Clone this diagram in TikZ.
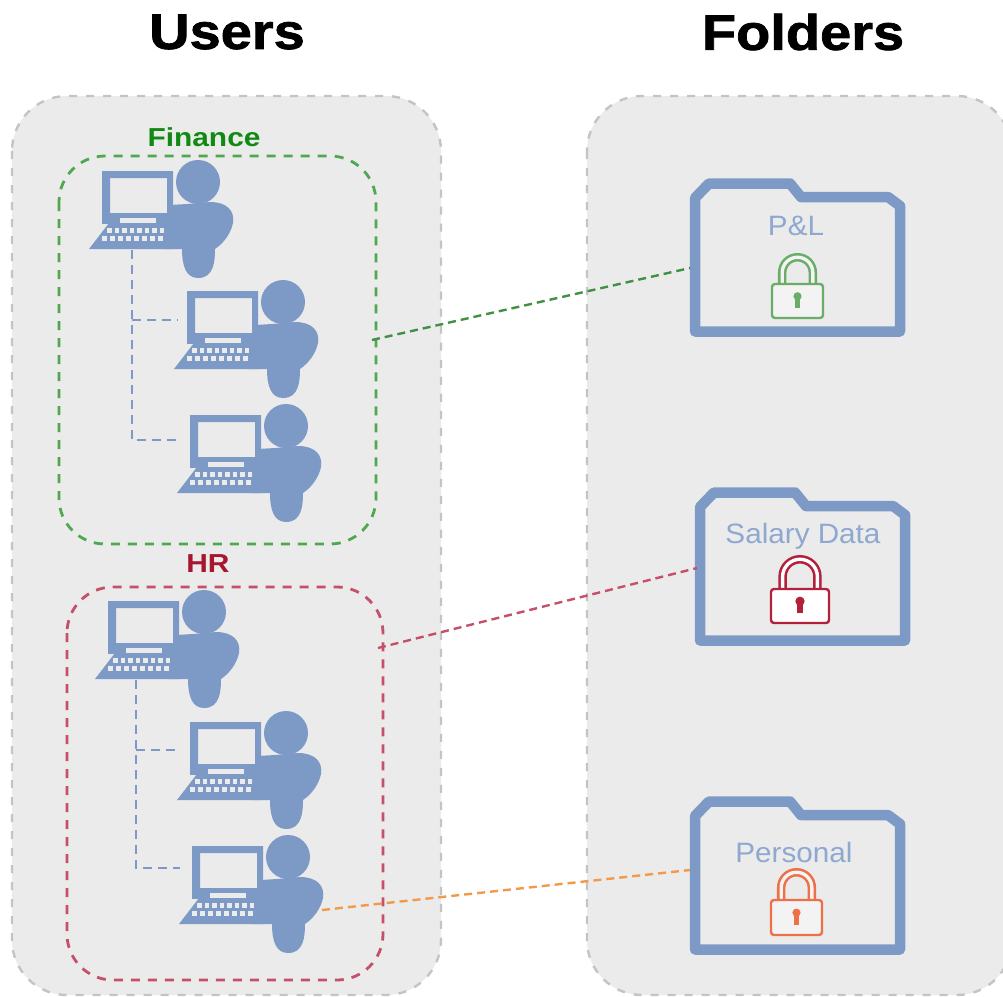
\documentclass[tikz,border=0pt]{standalone}
\usepackage{fontspec}
\setmainfont{Liberation Sans}
\newfontfamily\headfont[FakeBold=1.5,FakeStretch=1.12]{Liberation Sans Bold}
\newfontfamily\groupfont[FakeStretch=1.15]{Liberation Sans Bold}
\newfontfamily\labelfont[FakeStretch=1.06]{Liberation Sans}
\usetikzlibrary{calc}
\definecolor{panelfill}{HTML}{EBEBEB}
\definecolor{panelline}{HTML}{C4C4C4}
\definecolor{iconblue}{HTML}{7D9AC6}
\definecolor{labelblue}{HTML}{8FA8D0}
\definecolor{fingreen}{HTML}{4FA84F}
\definecolor{fintext}{HTML}{118A11}
\definecolor{hrred}{HTML}{C4506A}
\definecolor{hrtext}{HTML}{A8152E}
\definecolor{lockgreen}{HTML}{69AD69}
\definecolor{lockred}{HTML}{B3203A}
\definecolor{lockorange}{HTML}{EE7048}
\definecolor{linkorange}{HTML}{F39A4A}
\tikzset{
  x=1pt,y=-1pt,
  panel/.style={draw=panelline,fill=panelfill,line width=2.4pt,dash pattern=on 8pt off 9pt,rounded corners=55pt},
  groupbox/.style={line width=2.8pt,dash pattern=on 9pt off 8pt,rounded corners=46pt},
  tie/.style={draw=iconblue,line width=1.1pt,dash pattern=on 9pt off 6pt},
  link/.style={line width=2.4pt,dash pattern=on 8pt off 5pt},
  heading/.style={font=\fontsize{50}{50}\headfont},
  grouplabel/.style={font=\fontsize{26}{26}\groupfont},
  folderlabel/.style={font=\fontsize{28}{28}\labelfont,text=labelblue},
  user/.pic={
    % person
    \fill[iconblue] (96,11) circle (22);
    \fill[iconblue] (68,34) -- (85,33) -- (108,31)
       .. controls (125,31) and (133,40) .. (131,52)
       .. controls (129,62) and (122,72) .. (113,78)
       .. controls (113,90) and (112,107) .. (96,107)
       .. controls (84,107) and (80,95) .. (80,78) -- (60,78) -- cycle;
    % screen
    \fill[iconblue,even odd rule] (0,0) rectangle (71,47) (8,7) rectangle (65,42);
    % base
    \fill[iconblue] (7,52) -- (72,52) -- (72,78) -- (-13,78) -- cycle;
    \fill[iconblue] (0,46) rectangle (72,53);
    \fill[panelfill] (18,47) rectangle (54,52);
    \foreach \kx in {0,8,16,24,32,40,48,56}
      \fill[panelfill] (\kx,65) rectangle ++(5,5);
    \foreach \kx in {5,12.5,20,27.5,35,42.5,50,57.5}
      \fill[panelfill] (\kx,57) rectangle ++(4.5,5);
  },
  folder/.pic={
    \draw[iconblue,line width=10.5pt,line join=round]
      (5,153.5) -- (5,20) -- (19,5.5) -- (100,5.5) -- (111,19) -- (198,19) -- (210,28) -- (210,153.5) -- cycle;
  },
}
\newcommand{\lockshape}[7]{% x-left, y-top of body, width, height, shackle top, colour, body fill
  \pgfmathsetmacro{\lr}{#3*0.3}
  \pgfmathsetmacro{\lc}{#1+#3*0.5}
  \draw[#6,line width=8.5pt] (\lc-\lr,#2) -- (\lc-\lr,#5+4.25+\lr)
     arc[start angle=180,end angle=360,radius=\lr] -- (\lc+\lr,#2);
  \draw[#7,line width=3.4pt] (\lc-\lr,#2) -- (\lc-\lr,#5+4.25+\lr)
     arc[start angle=180,end angle=360,radius=\lr] -- (\lc+\lr,#2);
  \draw[#6,line width=2.4pt,fill=#7,rounded corners=3pt] (#1,#2) rectangle ++(#3,#4);
  \pgfmathsetmacro{\kr}{#3*0.08}
  \fill[#6] (\lc,#2+#4*0.36) circle (\kr);
  \fill[#6] (\lc-\kr*0.55,#2+#4*0.36) rectangle (\lc+\kr*0.55,#2+#4*0.72);
}
\begin{document}
\begin{tikzpicture}
\useasboundingbox (0,0) rectangle (1003,996);
\fill[white] (0,0) rectangle (1003,996);
\begin{scope}
\clip (0,0) rectangle (1003,996);
\draw[panel] (12,96) rectangle (441,995);
\draw[panel] (587,96) rectangle (1012,995);
\end{scope}
\node[heading] (usershead) at (227,32) {Users};
\node[heading] (foldershead) at (803,32) {Folders};

\draw[groupbox,draw=fingreen] (59,156) rectangle (376,544);
\draw[groupbox,draw=hrred] (67,587) rectangle (383,980);
\node[grouplabel,text=fintext] (finance) at (204,137) {Finance};
\node[grouplabel,text=hrtext] (hr) at (208,564) {HR};

% junctions
\coordinate (fa) at (132,250); \coordinate (fb) at (132,320); \coordinate (fc) at (132,440);
\coordinate (fu2) at (178,320); \coordinate (fu3) at (178,440);
\coordinate (ha) at (136,680); \coordinate (hb) at (136,750); \coordinate (hc) at (136,868);
\coordinate (hu2) at (180,750); \coordinate (hu3) at (180,868);
\draw[tie] (fa) -- (fc) -- (fu3);
\draw[tie] (fb) -- (fu2);
\draw[tie] (ha) -- (hc) -- (hu3);
\draw[tie] (hb) -- (hu2);

\pic at (102,171) {user};
\pic at (187,291) {user};
\pic at (190,415) {user};
\pic at (108,601) {user};
\pic at (190,722) {user};
\pic at (192,846) {user};

\pic at (690,178) {folder};
\pic at (695,487) {folder};
\pic at (690,796) {folder};

\node[folderlabel] (pl) at (796,226) {P\&L};
\node[folderlabel] (sal) at (803,536) {Salary Data};
\node[folderlabel] (per) at (794,852) {Personal};

\lockshape{772}{284}{51}{34}{253}{lockgreen}{panelfill!60!white}
\lockshape{771}{589}{58}{34}{555}{lockred}{white}
\lockshape{771}{900}{51}{35}{868}{lockorange}{panelfill!60!white}

\coordinate (gfrom) at (372,340); \coordinate (gto) at (690,268);
\coordinate (rfrom) at (378,648); \coordinate (rto) at (697,568);
\coordinate (ofrom) at (322,910); \coordinate (oto) at (690,870);
\draw[link,draw=fingreen!85!black] (gfrom) -- (gto);
\draw[link,draw=hrred] (rfrom) -- (rto);
\draw[link,draw=linkorange] (ofrom) -- (oto);
\end{tikzpicture}
\end{document}
